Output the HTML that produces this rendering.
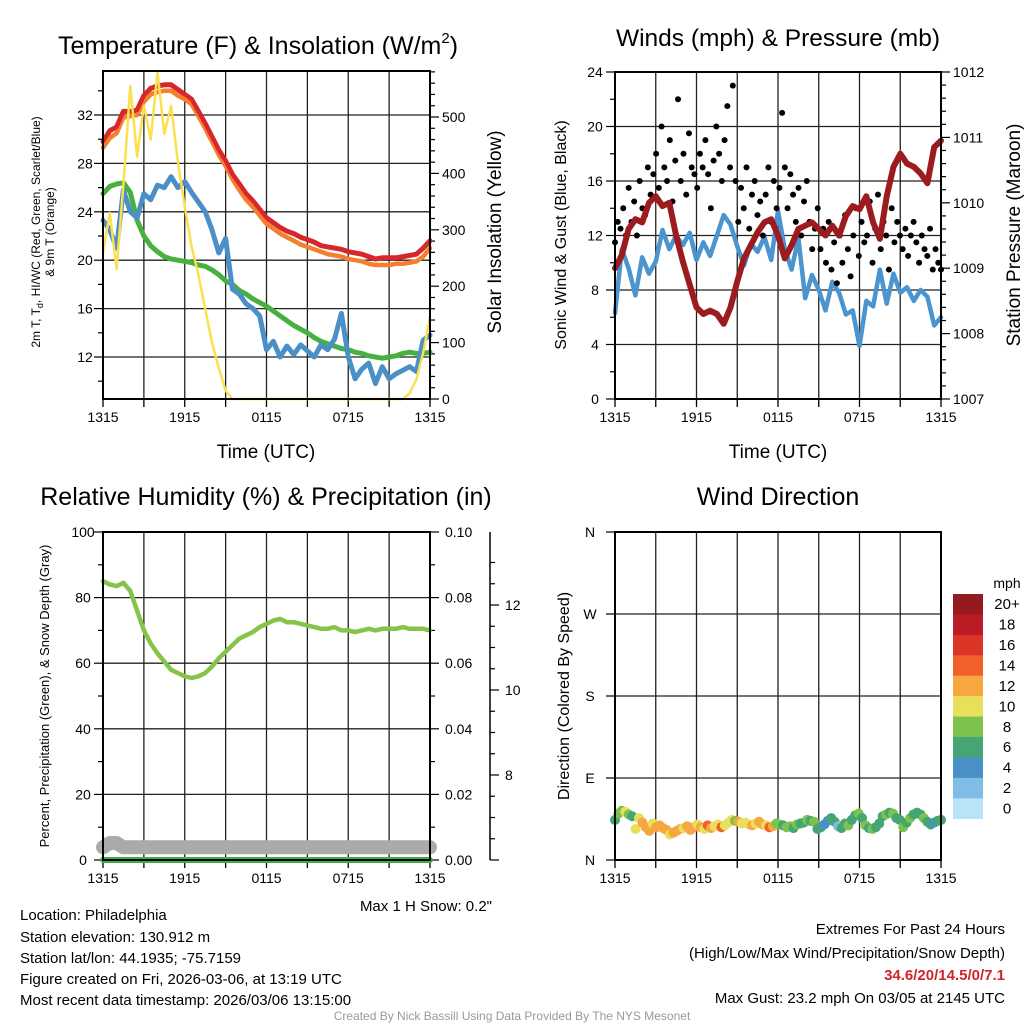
<!DOCTYPE html>
<html><head><meta charset="utf-8"><style>
html,body{margin:0;padding:0;background:#fff;}
svg{display:block;font-family:"Liberation Sans",Arial,sans-serif;}
</style></head><body>
<svg id="c" width="1024" height="1024" viewBox="0 0 1024 1024" xmlns="http://www.w3.org/2000/svg"></svg>
<script>
// ---- data (30-min steps 1315 -> 1315) ----
const tempRed=[29.8,30.7,31.0,32.3,32.3,32.4,33.6,34.2,34.4,34.5,34.5,34.1,33.7,33.3,32.3,31.3,30.2,29.1,28.2,27.1,26.3,25.5,24.9,24.2,23.5,23.1,22.7,22.4,22.2,21.9,21.7,21.5,21.2,21.1,21.0,20.9,20.7,20.6,20.5,20.3,20.1,20.2,20.2,20.2,20.3,20.4,20.5,21.0,21.6];
const temp9m=[29.3,30.1,30.5,31.8,31.9,32.0,33.1,33.7,33.9,34.0,34.0,33.6,33.3,32.9,31.9,30.9,29.8,28.7,27.8,26.7,25.8,25.0,24.4,23.7,23.0,22.6,22.2,21.9,21.6,21.3,21.1,20.9,20.7,20.5,20.4,20.3,20.1,20.0,19.9,19.7,19.6,19.6,19.6,19.7,19.7,19.8,19.9,20.3,21.0];
const dewGreen=[25.5,26.1,26.3,26.4,25.6,23.3,22.0,21.2,20.7,20.3,20.1,20.0,19.9,19.8,19.6,19.5,19.2,18.8,18.3,18.0,17.5,17.2,16.8,16.5,16.2,15.8,15.4,15.0,14.6,14.3,14.0,13.6,13.3,13.1,12.9,12.7,12.6,12.4,12.3,12.1,12.0,11.9,12.0,12.1,12.3,12.4,12.3,12.3,12.4];
const chillBlue=[23.3,22.5,21.0,25.8,24.0,23.5,25.5,25.0,26.2,26.0,26.9,26.0,26.5,25.6,24.8,24.0,22.5,20.6,21.8,17.6,17.2,16.4,16.0,15.4,12.6,13.3,12.0,12.9,12.2,13.0,12.5,12.0,13.0,12.6,13.5,15.6,12.0,10.2,11.0,11.5,9.8,11.2,10.2,10.6,10.9,11.2,10.8,13.4,13.8];
const solar=[260,330,230,380,555,430,520,460,580,470,520,420,340,270,220,160,100,55,15,0,0,0,0,0,0,0,0,0,0,0,0,0,0,0,0,0,0,0,0,0,0,0,0,0,0,10,35,82,146];
const pressure=[1009.0,1009.2,1009.6,1009.75,1009.7,1010.0,1010.1,1009.95,1010.0,1009.5,1009.1,1008.75,1008.4,1008.3,1008.35,1008.3,1008.15,1008.4,1008.8,1009.15,1009.35,1009.55,1009.7,1009.75,1009.5,1009.15,1009.35,1009.6,1009.65,1009.7,1009.6,1009.5,1009.65,1009.5,1009.8,1009.95,1009.9,1010.1,1009.7,1009.45,1010.1,1010.55,1010.75,1010.6,1010.55,1010.45,1010.3,1010.85,1010.95];
const windSpeed=[6.3,11.0,9.6,7.6,10.4,9.2,10.1,12.4,11.0,12.0,11.3,12.2,10.2,11.5,10.5,12.0,13.5,12.8,11.2,9.8,11.4,10.8,11.9,10.2,13.8,11.0,9.5,11.8,7.4,9.1,8.0,6.5,8.6,7.8,6.2,6.5,3.9,7.2,6.8,9.5,7.0,9.2,7.8,8.2,7.2,8.0,7.5,5.4,6.0];
const gusts=[11.5,13,12.5,14,12,15.5,13,14.5,12,16,14,13.5,17,15,16.5,18,15.5,20,17,16,19,14.5,17.5,22,16,18,15,19.5,17,16.5,15.5,18,17,19,16.5,14,17.5,20,18,16,19,21.5,17,23,16,13,15.5,14,17,12.5,15,16,13.5,14.5,12,15,17,13,16,14,15.5,21,17,14,16.5,15,13,15.5,12,14.5,16,13,11,12.5,14,11,12.5,10,13,9.5,11.5,8.5,12,10,13.5,11,9,12,14,10.5,13,11.5,12,14.5,10,12.5,15,11,13,12,9.5,14,11.5,13,12,11,12.5,10.5,12,13,11.5,10,12,11,10.5,12.5,9.5,11,10,9.5];
const rh=[85,84,83.5,84.5,82,76,70,66,63,60.5,58,57,56,55.5,56,57,59,61.5,63.5,65.5,67.5,68.5,69.5,71,72,73,73.5,72.5,72.5,72,71.5,71,70.5,70.5,71,70,70,69.5,70,70.5,70,70.5,70.5,70.5,71,70.5,70.5,70.5,70];
const precip=[0,0,0,0,0,0,0,0,0,0,0,0,0,0,0,0,0,0,0,0,0,0,0,0,0,0,0,0,0,0,0,0,0,0,0,0,0,0,0,0,0,0,0,0,0,0,0,0,0];
const snowDepth=[6.3,6.4,6.4,6.3,6.3,6.3,6.3,6.3,6.3,6.3,6.3,6.3,6.3,6.3,6.3,6.3,6.3,6.3,6.3,6.3,6.3,6.3,6.3,6.3,6.3,6.3,6.3,6.3,6.3,6.3,6.3,6.3,6.3,6.3,6.3,6.3,6.3,6.3,6.3,6.3,6.3,6.3,6.3,6.3,6.3,6.3,6.3,6.3,6.3];
const windDir=[44,51,54,53,50,48,34,46,41,36,32,40,36,38,35,33,28,30,32,34,35,37,33,36,39,36,34,38,35,37,39,36,38,41,44,43,42,40,41,39,38,40,42,39,38,36,37,40,39,38,36,37,35,39,40,41,44,43,42,34,36,39,43,46,42,37,35,40,38,44,49,51,46,38,35,34,36,40,48,50,52,51,46,44,36,41,46,50,52,50,46,42,39,41,43,44];
const dirSpeed=[7,8,9,10,8,7,11,10,12,13,12,11,12,13,12,13,11,12,13,12,11,12,13,12,10,12,11,15,12,10,11,14,10,11,10,9,12,10,11,10,12,11,13,12,11,15,12,9,8,7,9,8,7,8,6,7,9,7,8,6,6,5,4,6,7,3,6,6,8,7,6,8,7,8,7,8,6,7,6,8,7,8,7,6,8,7,8,6,7,6,8,7,6,5,6,7];
const timeLabels=["1315","1915","0115","0715","1315"];
const cbLabels=["20+","18","16","14","12","10","8","6","4","2","0"];
const cbColors=["#951a1d","#b91c24","#dc3427","#f06129","#f6a742","#e8e05a","#7bc34c","#46a673","#4990c6","#7fbce6","#b8e3f8"];

const S=document.getElementById('c');const NS='http://www.w3.org/2000/svg';
function el(t,a,p){const e=document.createElementNS(NS,t);for(const k in a)e.setAttribute(k,a[k]);(p||S).appendChild(e);return e;}
function tx(s,x,y,size,anchor,extra){const e=el('text',Object.assign({x:x,y:y,'font-size':size,'text-anchor':anchor||'middle',fill:'#000'},extra||{}));e.textContent=s;return e;}
function lin(x0,x1,d0,d1){return v=>x0+(v-d0)*(x1-x0)/(d1-d0);}
function poly(arr,xs,ys,color,w,name){const N=arr.length;let d='';arr.forEach((v,i)=>{d+=(i?'L':'M')+xs(i*(48/(N-1))).toFixed(1)+','+ys(v).toFixed(1);});const p=el('path',{d:d,fill:'none',stroke:color,'stroke-width':w,'stroke-linejoin':'round','stroke-linecap':'round'});return p;}

function frame(L,R,T,B,yl,name){
  const g=el('g',{});
  const xs=lin(L,R,0,48);
  for(let k=1;k<8;k++){const x=xs(k*6);el('line',{x1:x,x2:x,y1:T,y2:B,stroke:'#222','stroke-width':1.3},g);}
  yl.forEach(y=>el('line',{x1:L,x2:R,y1:y,y2:y,stroke:'#222','stroke-width':1.3},g));
  for(let k=0;k<=8;k++){const x=xs(k*6);el('line',{x1:x,x2:x,y1:B,y2:B+8,stroke:'#000','stroke-width':1.3},g);}
  timeLabels.forEach((s,i)=>{const t=tx(s,xs(i*12),B+23,14);});
  return {g,xs};
}
function border(L,R,T,B){el('rect',{x:L,y:T,width:R-L,height:B-T,fill:'none',stroke:'#000','stroke-width':2});}

// ---------- Panel 1 ----------
{const L=103,R=430,T=71,B=399;
 const ys=lin(357,115,12,32), yr=lin(399,117,0,500);
 const ticksL=[12,16,20,24,28,32];
 const f=frame(L,R,T,B,ticksL.map(ys),'temperature-panel');
 for(let v=10;v<=35;v+=2){const y=ys(v);if(y>T&&y<B)el('line',{x1:L-(v%4?5:9),x2:L,y1:y,y2:y,stroke:'#000','stroke-width':1.2});}
 ticksL.forEach(v=>{const t=tx(String(v),L-18,ys(v)+5,14);});
 for(let v=0;v<=580;v+=20){const y=yr(v);if(y>=T)el('line',{x1:R,x2:R+(v%100?5:9),y1:y,y2:y,stroke:'#000','stroke-width':1.2});}
 [0,100,200,300,400,500].forEach(v=>{const t=tx(String(v),R+12,yr(v)+5,14,'start');});
 poly(tempRed,f.xs,ys,'#d7272b',5,'temp-2m-line');
 poly(temp9m,f.xs,ys,'#f47f2f',4.5,'temp-9m-line');
 poly(tempRed,f.xs,ys,'#d7272b',4,'temp-2m-line-top');
 poly(dewGreen,f.xs,ys,'#47b140',5,'dewpoint-line');
 poly(chillBlue,f.xs,ys,'#4a8fc8',5,'windchill-line');
 poly(solar,f.xs,yr,'#fbe051',2.5,'insolation-line');
 border(L,R,T,B);
 const t=tx('Temperature (F) & Insolation (W/m',258,54,25);
 const ts=el('tspan',{dy:-11,'font-size':15});ts.textContent='2';t.appendChild(ts);const t3=el('tspan',{dy:11});t3.textContent=')';t.appendChild(t3);
 const a=tx('Time (UTC)',266,458,19);
 const yt=tx('',0,0,12,'middle',{transform:'translate(40,232) rotate(-90)'});
 const s1=el('tspan',{x:0,dy:0});s1.textContent='2m T, T';yt.appendChild(s1);const s2=el('tspan',{'font-size':9,dy:3});s2.textContent='d';yt.appendChild(s2);const s3=el('tspan',{dy:-3});s3.textContent=', HI/WC (Red, Green, Scarlet/Blue)';yt.appendChild(s3);
 const s4=el('tspan',{x:0,dy:14});s4.textContent='& 9m T (Orange)';yt.appendChild(s4);
 const yr2=tx('Solar Insolation (Yellow)',0,0,19,'middle',{transform:'translate(501,232) rotate(-90)'});
}
// ---------- Panel 2 ----------
{const L=615,R=941,T=72,B=399;
 const ys=lin(399,72,0,24), yp=lin(399,72,1007,1012);
 const f=frame(L,R,T,B,[4,8,12,16,20].map(ys),'winds-panel');
 for(let v=0;v<=24;v+=2){el('line',{x1:L-(v%4?5:9),x2:L,y1:ys(v),y2:ys(v),stroke:'#000','stroke-width':1.2});}
 [0,4,8,12,16,20,24].forEach(v=>{const t=tx(String(v),L-20,ys(v)+5,14);});
 for(let v=1007;v<=1012.001;v+=0.2){const y=yp(v);const maj=Math.abs(v-Math.round(v))<0.01;el('line',{x1:R,x2:R+(maj?9:5),y1:y,y2:y,stroke:'#000','stroke-width':1.2});}
 [1007,1008,1009,1010,1011,1012].forEach(v=>{const t=tx(String(v),R+12,yp(v)+5,14,'start');});
 poly(windSpeed,f.xs,ys,'#4a94d0',4.5,'wind-speed-line');
 gusts.forEach((v,i)=>{const c=el('circle',{cx:f.xs(i*48/(gusts.length-1)),cy:ys(v),r:3,fill:'#000'});});
 poly(pressure,f.xs,yp,'#9b1b1e',6,'pressure-line');
 border(L,R,T,B);
 const t=tx('Winds (mph) & Pressure (mb)',778,46,24.5);
 const a=tx('Time (UTC)',778,458,19);
 const y1=tx('Sonic Wind & Gust (Blue, Black)',0,0,16,'middle',{transform:'translate(566,235) rotate(-90)'});
 const y2=tx('Station Pressure (Maroon)',0,0,19,'middle',{transform:'translate(1020,235) rotate(-90)'});
}
// ---------- Panel 3 ----------
{const L=103,R=430,T=532,B=860;
 const ys=lin(860,532,0,100), yp=lin(860,532,0,0.1), ysn=lin(775,605,8,12);
 const f=frame(L,R,T,B,[20,40,60,80].map(ys),'humidity-panel');
 for(let v=0;v<=100;v+=10)el('line',{x1:L-(v%20?5:9),x2:L,y1:ys(v),y2:ys(v),stroke:'#000','stroke-width':1.2});
 [0,20,40,60,80,100].forEach(v=>{const t=tx(String(v),L-20,ys(v)+5,14);});
 for(let v=0;v<=10;v++)el('line',{x1:R,x2:R+(v%2?5:9),y1:yp(v/100),y2:yp(v/100),stroke:'#000','stroke-width':1.2});
 [0,0.02,0.04,0.06,0.08,0.10].forEach(v=>{const t=tx(v.toFixed(2),R+15,yp(v)+5,14,'start');});
 el('line',{x1:490,x2:490,y1:T,y2:B,stroke:'#000','stroke-width':1.5});
 for(let v=6;v<=13.2;v+=0.5){const y=ysn(v);if(y>=T&&y<=B)el('line',{x1:490,x2:490+(Math.abs(v-Math.round(v/2)*2)<0.01?9:5),y1:y,y2:y,stroke:'#000','stroke-width':1.2});}
 [8,10,12].forEach(v=>{const t=tx(String(v),505,ysn(v)+5,14,'start');});
 poly(snowDepth,f.xs,ysn,'#aaaaaa',14,'snow-depth-line');
 poly(precip,f.xs,yp,'#3fae47',6,'precip-line');
 poly(rh,f.xs,ys,'#86c449',4.5,'rh-line');
 border(L,R,T,B);
 const t=tx('Relative Humidity (%) & Precipitation (in)',266,505,25);
 const y1=tx('Percent, Precipitation (Green), & Snow Depth (Gray)',0,0,13,'middle',{transform:'translate(49,696) rotate(-90)'});
 const m=tx('Max 1 H Snow: 0.2"',492,911,15,'end');
}
// ---------- Panel 4 ----------
{const L=615,R=941,T=532,B=860;
 const ys=lin(860,532,0,360);
 const f=frame(L,R,T,B,[90,180,270].map(ys),'wind-direction-panel');
 ['N','E','S','W','N'].forEach((s,i)=>{el('line',{x1:L-9,x2:L,y1:ys(i*90),y2:ys(i*90),stroke:'#000','stroke-width':1.2});const t=tx(s,L-25,ys(i*90)+5,14);});
 windDir.forEach((v,i)=>{const sp=dirSpeed[i];const idx=Math.max(0,10-Math.min(10,Math.floor(sp/2)));const c=el('circle',{cx:f.xs(i*48/(windDir.length-1)),cy:ys(v),r:5,fill:cbColors[idx]});});
 border(L,R,T,B);
 const t=tx('Wind Direction',778,505,25);
 const y1=tx('Direction (Colored By Speed)',0,0,16,'middle',{transform:'translate(569,696) rotate(-90)'});
 const cb=el('g',{});
 const h=(818.7-594)/11;
 cbColors.forEach((c,i)=>{el('rect',{x:953,y:594+i*h,width:30,height:h+0.3,fill:c},cb);const t=tx(cbLabels[i],1007,594+i*h+h/2+5,15,'middle',{});cb.appendChild(t);});
 const mu=tx('mph',1007,588,14);
}
// ---------- footer text ----------
[['Location: Philadelphia',920],['Station elevation: 130.912 m',942],['Station lat/lon: 44.1935; -75.7159',963],['Figure created on Fri, 2026-03-06, at 13:19 UTC',984],['Most recent data timestamp: 2026/03/06 13:15:00',1005]].forEach(a=>{const t=tx(a[0],20,a[1],15,'start');});
[['Extremes For Past 24 Hours',934,'#000','normal'],['(High/Low/Max Wind/Precipitation/Snow Depth)',958,'#000','normal'],['34.6/20/14.5/0/7.1',980,'#d0252b','bold'],['Max Gust: 23.2 mph On 03/05 at 2145 UTC',1003,'#000','normal']].forEach(a=>{const t=tx(a[0],1005,a[1],15,'end',{fill:a[2],'font-weight':a[3]});});
{const t=tx('Created By Nick Bassill Using Data Provided By The NYS Mesonet',512,1020,12,'middle',{fill:'#999'});}
</script>
</body></html>
